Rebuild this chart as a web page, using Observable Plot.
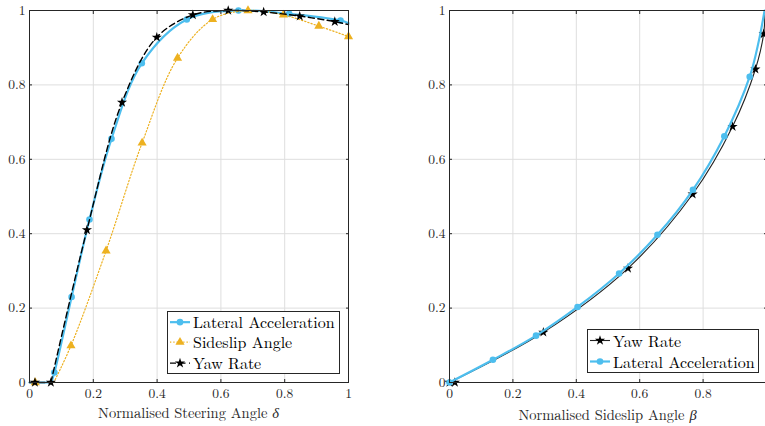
<!DOCTYPE html>
<html><head><meta charset="utf-8">
<script src="https://cdn.jsdelivr.net/npm/d3@7"></script>
<script src="https://cdn.jsdelivr.net/npm/@observablehq/plot@0.6"></script>
<style>
body{margin:0;background:#fff;}
#wrap{position:relative;width:765px;height:426px;overflow:hidden;font-family:"Latin Modern Roman","Liberation Serif",serif;background:#fff;}
.panel{position:absolute;top:0;}
.xlab{position:absolute;font-size:14.5px;color:#262626;white-space:nowrap;transform:translateX(-50%);line-height:1;}
.legend{position:absolute;border:1px solid #262626;background:#fff;font-size:16px;color:#000;box-sizing:border-box;}
.row{position:absolute;left:0;display:flex;align-items:center;white-space:nowrap;line-height:1;}
.row svg{flex:none;}
.row span{display:inline-block;line-height:1;height:1em;overflow:visible;}
</style></head>
<body>
<div id="wrap"></div>
<script>
// ---------- data ----------
const ticks = [0, 0.2, 0.4, 0.6, 0.8, 1];
const tickLabels = ["0", "0.2", "0.4", "0.6", "0.8", "1"];
const rightXLabelTicks = [0, 0.2, 0.4, 0.6, 0.8];

// Left panel: vs Normalised Steering Angle
const latMarkX = [0.078, 0.132, 0.188, 0.257, 0.352, 0.493, 0.655, 0.814, 0.975];
const latMarkY = [0.027, 0.230, 0.438, 0.655, 0.858, 0.976, 1.000, 0.991, 0.973];
const latLineX = [0, 0.068, 0.078, 0.132, 0.188, 0.257, 0.352, 0.493, 0.655, 0.814, 0.975, 1];
const latLineY = [0, 0, 0.027, 0.230, 0.438, 0.655, 0.858, 0.976, 1.000, 0.991, 0.973, 0.966];

const sideMarkX = [0.018, 0.130, 0.240, 0.353, 0.464, 0.574, 0.685, 0.796, 0.907, 1.000];
const sideMarkY = [0, 0.099, 0.354, 0.644, 0.872, 0.976, 1.000, 0.988, 0.958, 0.930];
const sideLineX = [0, 0.076, 0.130, 0.240, 0.353, 0.464, 0.574, 0.685, 0.796, 0.907, 1.000];
const sideLineY = [0, 0, 0.099, 0.354, 0.644, 0.872, 0.976, 1.000, 0.988, 0.958, 0.930];

const yawMarkX = [0.017, 0.067, 0.180, 0.290, 0.399, 0.512, 0.623, 0.734, 0.847, 0.957];
const yawMarkY = [0, 0, 0.410, 0.753, 0.928, 0.988, 1.000, 0.996, 0.985, 0.970];
const yawLineX = [0, 0.067, 0.180, 0.290, 0.399, 0.512, 0.623, 0.734, 0.847, 0.957, 1];
const yawLineY = [0, 0, 0.410, 0.753, 0.928, 0.988, 1.000, 0.996, 0.985, 0.970, 0.962];

// Right panel: vs Normalised Sideslip Angle
const rYawMarkX = [0, 0.017, 0.296, 0.563, 0.767, 0.893, 0.965, 0.991];
const rYawMarkY = [0, 0, 0.135, 0.307, 0.506, 0.688, 0.842, 0.937];
const rYawLineX = [0, 0.296, 0.563, 0.767, 0.893, 0.965, 0.991, 0.995];
const rYawLineY = [0, 0.135, 0.307, 0.506, 0.688, 0.842, 0.937, 1];

const rLatMarkX = [0, 0.137, 0.273, 0.404, 0.535, 0.656, 0.768, 0.867, 0.947];
const rLatMarkY = [0, 0.061, 0.126, 0.203, 0.293, 0.397, 0.518, 0.662, 0.822];
const rLatLineX = [0, 0.137, 0.273, 0.404, 0.535, 0.656, 0.768, 0.867, 0.947, 0.976, 0.994];
const rLatLineY = [0, 0.061, 0.126, 0.203, 0.293, 0.397, 0.518, 0.662, 0.822, 0.919, 1];

const BLUE = "#4DBEEE", ORANGE = "#EDB120", BLACK = "#000000";
const FONT = "'Latin Modern Roman', 'Liberation Serif', serif";

// ---------- helpers ----------
const pts = (xs, ys) => xs.map((x, i) => ({x, y: ys[i]}));
const fmt = d => tickLabels[ticks.indexOf(d)];

function panel({width, marginLeft, marginRight, xLabelTicks, marks}) {
  return Plot.plot({
    width, height: 426, marginLeft, marginRight, marginTop: 10, marginBottom: 44,
    x: {domain: [0, 1]}, y: {domain: [0, 1]},
    style: {fontFamily: FONT, fontSize: "13.5px", color: "#262626", background: "transparent", overflow: "visible"},
    marks: [
      Plot.gridX(ticks, {stroke: "#dedede", strokeOpacity: 1}),
      Plot.gridY(ticks, {stroke: "#dedede", strokeOpacity: 1}),
      ...marks,
      Plot.frame({stroke: "#262626"}),
      Plot.axisX(ticks, {anchor: "bottom", tickSize: -3, tickFormat: () => "", label: null}),
      Plot.axisX(xLabelTicks, {anchor: "bottom", tickSize: 0, tickPadding: 6, tickFormat: fmt, fill: "#262626", label: null}),
      Plot.axisX(ticks, {anchor: "top", tickSize: -3, tickFormat: () => "", label: null}),
      Plot.axisY(ticks, {anchor: "left", tickSize: -3, tickPadding: 7, tickFormat: fmt, fill: "#262626", label: null}),
      Plot.axisY(ticks, {anchor: "right", tickSize: -3, tickFormat: () => "", label: null})
    ]
  });
}

function splitLine(xs, ys, style) {
  const all = pts(xs, ys);
  return [
    Plot.line(all.slice(0, 2), {x: "x", y: "y", ...style}),
    Plot.line(all.slice(1), {x: "x", y: "y", curve: "catmull-rom", ...style})
  ];
}

const latStyle = {stroke: BLUE, strokeWidth: 2.2};
const sideStyle = {stroke: ORANGE, strokeWidth: 1.2, strokeDasharray: "1.3,2"};
const yawStyle = {stroke: BLACK, strokeWidth: 1.4, strokeDasharray: "6,3.5"};

const left = panel({
  width: 380, marginLeft: 29, marginRight: 32, xLabelTicks: ticks,
  marks: [
    ...splitLine(latLineX, latLineY, latStyle),
    Plot.dot(pts(latMarkX, latMarkY), {x: "x", y: "y", r: 3.3, fill: BLUE, stroke: null}),
    ...splitLine(sideLineX, sideLineY, sideStyle),
    Plot.dot(pts(sideMarkX, sideMarkY), {x: "x", y: "y", r: 3.4, symbol: "triangle", fill: ORANGE, stroke: null}),
    ...splitLine(yawLineX, yawLineY, yawStyle),
    Plot.dot(pts(yawMarkX, yawMarkY), {x: "x", y: "y", r: 3.2, symbol: "star", fill: BLACK, stroke: null})
  ]
});

const right = panel({
  width: 384, marginLeft: 64, marginRight: 3, xLabelTicks: rightXLabelTicks,
  marks: [
    Plot.line(pts(rYawLineX, rYawLineY), {x: "x", y: "y", curve: "catmull-rom", stroke: "#222", strokeWidth: 1.1}),
    Plot.dot(pts(rYawMarkX, rYawMarkY), {x: "x", y: "y", r: 3.2, symbol: "star", fill: BLACK, stroke: null}),
    Plot.line(pts(rLatLineX, rLatLineY), {x: "x", y: "y", curve: "catmull-rom", ...latStyle}),
    Plot.dot(pts(rLatMarkX, rLatMarkY), {x: "x", y: "y", r: 3.3, fill: BLUE, stroke: null})
  ]
});

const wrap = document.getElementById("wrap");
left.classList.add("panel"); left.style.left = "0px";
right.classList.add("panel"); right.style.left = "385px";
wrap.appendChild(left);
wrap.appendChild(right);

// axis labels
function xlabel(html, cx, top) {
  const d = document.createElement("div");
  d.className = "xlab"; d.innerHTML = html;
  d.style.left = cx + "px"; d.style.top = top + "px";
  wrap.appendChild(d);
}
xlabel('Normalised Steering Angle <i>δ</i>', 188.5, 404.5);
xlabel('Normalised Sideslip Angle <i>β</i>', 607.5, 407);

// legends
function legend(items, x, y, w, h) {
  const box = document.createElement("div");
  box.className = "legend";
  Object.assign(box.style, {left: x + "px", top: y + "px", width: w + "px", height: h + "px"});
  const rowH = (h - 2) / items.length;
  items.forEach((it, i) => {
    const row = document.createElement("div");
    row.className = "row";
    row.style.top = (i * rowH) + "px";
    row.style.height = rowH + "px";
    const svg = d3.create("svg").attr("width", 24).attr("height", rowH);
    const cy = rowH / 2;
    svg.append("line").attr("x1", 2).attr("x2", 22).attr("y1", cy).attr("y2", cy)
      .attr("stroke", it.stroke).attr("stroke-width", it.sw).attr("stroke-dasharray", it.dash || null);
    svg.append("path").attr("d", d3.symbol(it.symbol, it.size)()).attr("transform", `translate(12,${cy})`).attr("fill", it.fill);
    row.appendChild(svg.node());
    const t = document.createElement("span");
    t.textContent = it.label; t.style.marginLeft = "1px";
    row.appendChild(t);
    box.appendChild(row);
  });
  wrap.appendChild(box);
}
const S = r => Math.PI * r * r;
legend([
  {label: "Lateral Acceleration", stroke: BLUE, sw: 2.2, symbol: d3.symbolCircle, size: S(3.3), fill: BLUE},
  {label: "Sideslip Angle", stroke: ORANGE, sw: 1.2, dash: "1.3,2", symbol: d3.symbolTriangle, size: S(3.4), fill: ORANGE},
  {label: "Yaw Rate", stroke: BLACK, sw: 1.4, dash: "6,3.5", symbol: d3.symbolStar, size: S(3.2), fill: BLACK}
], 167, 311, 173, 63);
legend([
  {label: "Yaw Rate", stroke: "#222", sw: 1.1, symbol: d3.symbolStar, size: S(3.2), fill: BLACK},
  {label: "Lateral Acceleration", stroke: BLUE, sw: 2.2, symbol: d3.symbolCircle, size: S(3.3), fill: BLUE}
], 587, 329, 172, 44);
</script>
</body></html>
